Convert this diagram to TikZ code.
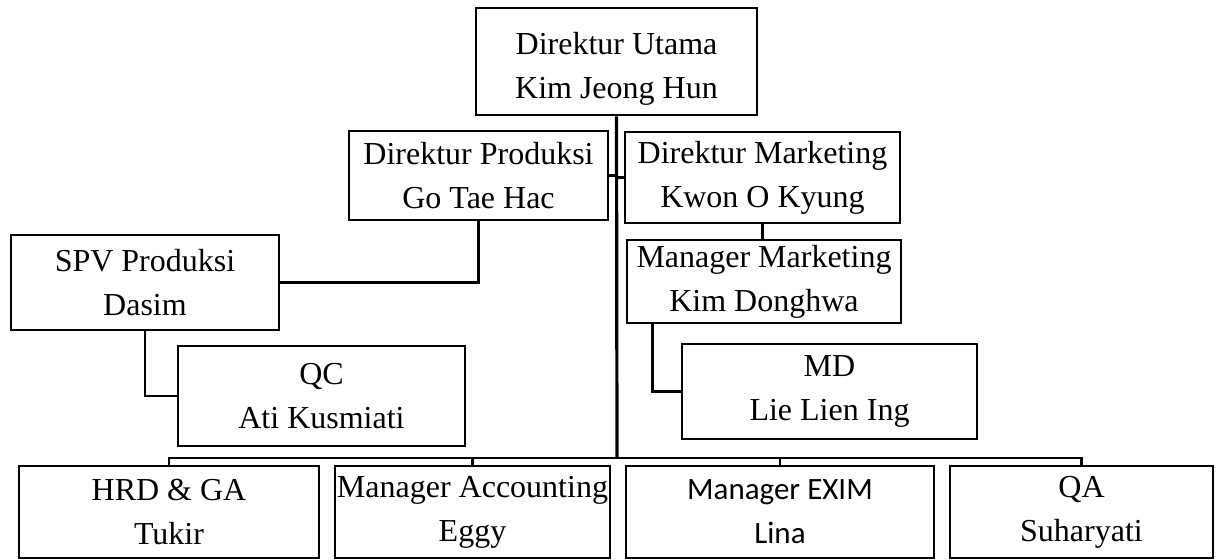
\documentclass[tikz,border=0pt]{standalone}
\usepackage{fontspec}
\setmainfont{Liberation Serif}
\newfontfamily\calibrilike{Carlito}
\usetikzlibrary{positioning,calc}
\tikzset{
	jabatan/.style args={#1x#2}{
			draw, line width=1.3pt, align=center, inner sep=0pt,
			minimum width=#1*0.5pt, minimum height=#2*0.5pt
		},
	garis/.style={line width=1.3pt}
}

\begin{document}
\begin{tikzpicture}[x=0.5pt, y=-0.5pt, font=\fontsize{16}{22}\selectfont]

			% Fix the page size
			\useasboundingbox (0,0) rectangle (1220,560);

			% Directors
			\node[jabatan=281x107] (du) at (616.5,61.5) {\rule{0pt}{18pt}Direktur Utama\\Kim Jeong Hun};
			\node[jabatan=259x89] (dp) at (478.5,175.5) {Direktur Produksi\\Go Tae Hac};
			\node[jabatan=275x91] (dm) at (762.5,177.5) {Direktur Marketing\\Kwon O Kyung};

			% Production side
			\node[jabatan=268x95] (spv) at (145,282.5) {SPV Produksi\\Dasim};
			\node[jabatan=287x100] (qc) at (321.5,396) {QC\\Ati Kusmiati};

			% Marketing side
			\node[jabatan=274x83] (mm) at (764,281.5) {Manager Marketing\\Kim Donghwa};
			\node[jabatan=295x95] (md) at (829.5,391.5) {MD\\Lie Lien Ing};

			% Bottom row
			\node[jabatan=300x92] (hrd) at (169,512) {HRD \& GA\\Tukir};
			\node[jabatan=275x92] (acc) at (472.5,512) {Manager Accounting\\Eggy};
			\node[jabatan=308x92, font=\calibrilike\fontsize{15.5}{22}\selectfont] (exim) at (780,512) {Manager EXIM\\Lina};
			\node[jabatan=263x92] (qa) at (1081.5,512) {QA\\Suharyati};

			% Main line and bus
			\coordinate (bus) at (617,458);
			\draw[garis, line width=1.6pt] (du.south) -- (bus);
			\draw[garis] (hrd.north) |- (bus) -| (qa.north);
			\draw[garis] (acc.north) -- (acc.north |- bus);
			\draw[garis] (exim.north) -- (exim.north |- bus);

			% Directors to main line
			\draw[garis] (dp.east) -- (dp.east -| du.south);
			\draw[garis] (dm.west) -- (dm.west -| du.south);

			% Production connectors
			\draw[garis] (dp.south) |- (spv.east);
			\draw[garis] (spv.south) |- (qc.west);

			% Marketing connectors
			\draw[garis] (dm.south) -- (dm.south |- mm.north);
			\draw[garis] ([xshift=13.5pt]mm.south west) |- (md.west);

		\end{tikzpicture}
\end{document}
